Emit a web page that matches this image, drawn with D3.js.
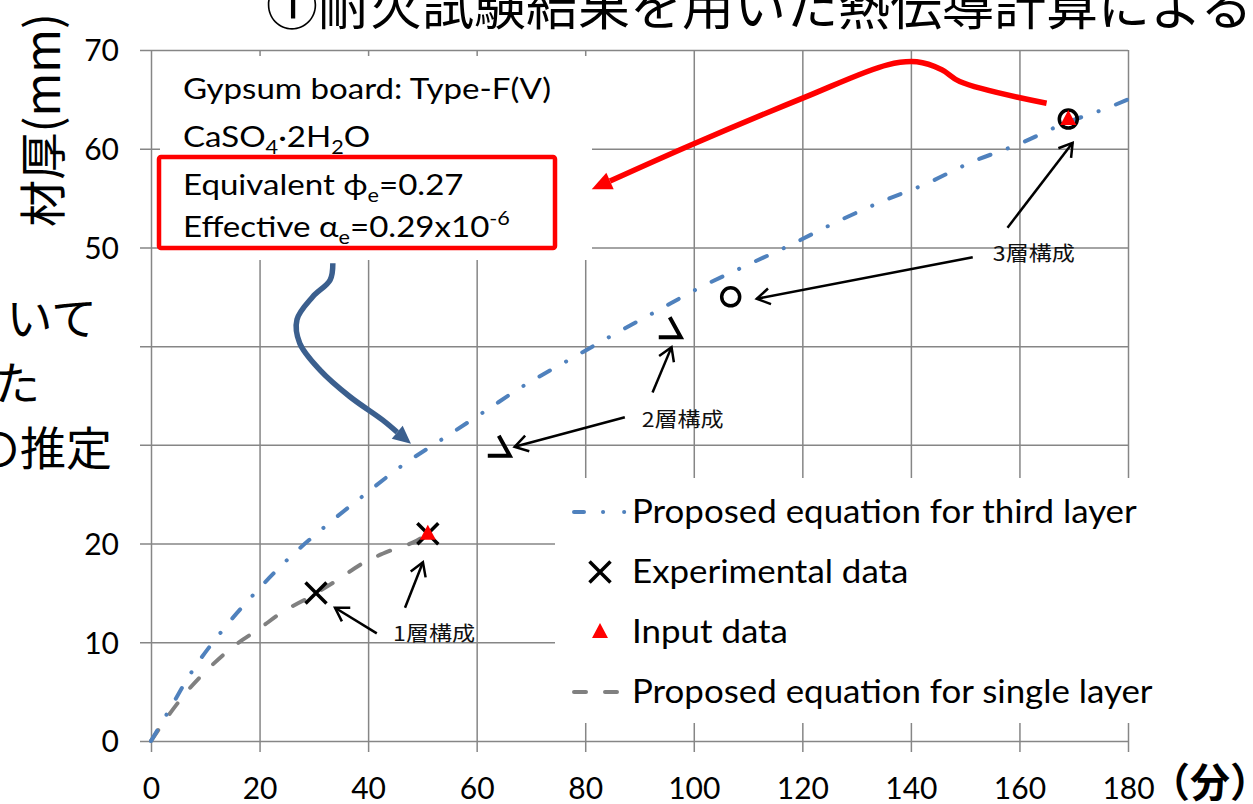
<html> <head>
<script src="https://d3js.org/d3.v7.min.js"></script>
<style>
  body { margin: 0; background: #fff; }
</style>
</head>
<body>
  <div id="chart"></div>
<script>

// data
const xTicks = [0, 20, 40, 60, 80, 100, 120, 140, 160, 180];
const yTicks = [0, 10, 20, 30, 40, 50, 60, 70];
const yLabels = ['0', '10', '20', '', '', '50', '60', '70']; // 30 and 40 sit under the slide text

// proposed equation for third layer (time [min], thickness [mm])
const thirdT = [0, 3, 7.5, 13, 19, 25, 32, 39, 46, 54, 61.5, 69, 77, 85, 93, 101, 109, 118, 126, 134, 143, 151, 160, 168, 177, 180];
const thirdV = [0, 2.8, 7, 11.1, 14.9, 18.3, 21.7, 24.8, 27.8, 30.7, 33.4, 36.1, 38.6, 41.1, 43.5, 45.9, 48, 50.3, 52.5, 54.5, 56.5, 58.6, 60.5, 62.5, 64.3, 65];

// proposed equation for single layer
const singleT = [0, 3.5, 6.6, 10.9, 15, 20, 24.3, 29.3, 34.3, 39, 44.6, 49, 51];
const singleV = [0, 2.8, 5, 7.5, 9.5, 11.4, 13.1, 14.6, 16.3, 18, 19.4, 20.3, 21];

// markers
const expT = [30.4, 51];
const expV = [15, 21];
const inputT = [51, 169];
const inputV = [21, 63];
const ringT = [106.8, 169];
const ringV = [45, 63];
const layer2T = [66.1, 97.6];
const layer2V = [28.9, 40.9];

const legendLabels = ['Proposed equation for third layer', 'Experimental data', 'Input data', 'Proposed equation for single layer'];
const boxLines = ['Gypsum board: Type-F(V)'];

// annotations, in data units
const redArrow = [[165, 64.6], [149, 66.8], [145.7, 68.0], [141.1, 68.8], [135.7, 68.5], [120.4, 65.2], [99.6, 60.4], [81.2, 55.9]];
const blueArrow = [[33.5, 48.4], [33, 46.7], [29.8, 45], [26.9, 42.7], [27.4, 40.3], [31.1, 37.6], [36.6, 34.9], [42.7, 32.5], [47.9, 30.1]];
const noteArrows = [
  [[41.6, 10.9], [33.9, 13.5]],
  [[46.8, 13.5], [50.1, 18.1]],
  [[87.3, 32.8], [67.0, 29.8]],
  [[92.4, 35.3], [95.9, 39.9]],
  [[151.4, 49.0], [111.6, 44.8]],
  [[157.8, 52.0], [169.8, 60.6]]
];
const noteLabels = ['1層構成', '2層構成', '3層構成'];
const notePos = [[44.6, 10.1], [90.4, 31.8], [155.1, 48.6]];

// constants
const W = 1253, H = 804;
const gridColor = '#868686';
const latin = 'Lato, "Liberation Sans", sans-serif';
const cjk = '"Noto Sans CJK JP", sans-serif';

const svg = d3.select('#chart').append('svg')
  .attr('width', W)
  .attr('height', H);

const x = d3.scaleLinear().domain([0, 180]).range([151, 1128]);
const y = d3.scaleLinear().domain([0, 70]).range([741, 50]);

// stretch a text horizontally (the slide's fonts run wider than Lato)
const stretch = (sel, k) => sel.each(function () {
  const len = this.getComputedTextLength();
  d3.select(this).attr('textLength', len * k).attr('lengthAdjust', 'spacingAndGlyphs');
});

// grid + axes
svg.append('g')
  .attr('transform', `translate(0, ${y(0) + 11})`)
  .call(d3.axisBottom(x).tickValues(xTicks).tickSize(-(y(0) + 11 - y(70))).tickPadding(26))
  .call(g => g.select('.domain').remove())
  .call(g => g.selectAll('line').attr('stroke', gridColor).attr('stroke-width', 1.5))
  .call(g => g.selectAll('text').attr('font-size', 30).attr('font-family', latin).attr('fill', '#000'));

svg.append('g')
  .attr('transform', `translate(${x(0) - 11}, 0)`)
  .call(d3.axisLeft(y).tickValues(yTicks).tickFormat((d, i) => yLabels[i]).tickSize(-(x(180) - x(0) + 11)).tickPadding(21))
  .call(g => g.select('.domain').remove())
  .call(g => g.selectAll('line').attr('stroke', gridColor).attr('stroke-width', 1.5))
  .call(g => g.selectAll('text').attr('font-size', 30).attr('font-family', latin).attr('fill', '#000').attr('dy', '0.36em'));

// series lines
const line = d3.line().x(d => x(d[0])).y(d => y(d[1])).curve(d3.curveMonotoneX);

svg.append('path')
  .datum(d3.zip(singleT, singleV))
  .attr('d', line)
  .attr('fill', 'none')
  .attr('stroke', '#808080')
  .attr('stroke-width', 4)
  .attr('stroke-linecap', 'round')
  .attr('stroke-dasharray', '13,20');

svg.append('path')
  .datum(d3.zip(thirdT, thirdV))
  .attr('d', line)
  .attr('fill', 'none')
  .attr('stroke', '#4F81BD')
  .attr('stroke-width', 4)
  .attr('stroke-linecap', 'round')
  .attr('stroke-dasharray', '12,18.5,0.1,18.5');

// markers
const cross = 'M-10.5,-10.5L10.5,10.5M10.5,-10.5L-10.5,10.5';
const tri = 'M0,-9L8,6L-8,6Z';

svg.append('g').selectAll('circle')
  .data(d3.zip(ringT, ringV)).join('circle')
  .attr('cx', d => x(d[0])).attr('cy', d => y(d[1])).attr('r', 9)
  .attr('fill', 'none').attr('stroke', '#000').attr('stroke-width', 3.5);

svg.append('g').selectAll('path')
  .data(d3.zip(expT, expV)).join('path')
  .attr('transform', d => `translate(${x(d[0])}, ${y(d[1])})`)
  .attr('d', cross).attr('stroke', '#000').attr('stroke-width', 3.5);

svg.append('g').selectAll('path')
  .data(d3.zip(inputT, inputV)).join('path')
  .attr('transform', d => `translate(${x(d[0])}, ${y(d[1])})`)
  .attr('d', tri).attr('fill', '#FF0000');

svg.append('g').selectAll('path')
  .data(d3.zip(layer2T, layer2V)).join('path')
  .attr('transform', d => `translate(${x(d[0])}, ${y(d[1])})`)
  .attr('d', 'M-22,0L0,0L-11,-20')
  .attr('fill', 'none').attr('stroke', '#000').attr('stroke-width', 4);

// white boxes laid over the plot
svg.append('rect').attr('x', 160).attr('y', 56).attr('width', 432).attr('height', 204).attr('fill', '#fff');
svg.append('rect').attr('x', 555).attr('y', 478).attr('width', 610).attr('height', 245).attr('fill', '#fff');
svg.append('rect').attr('x', 0).attr('y', 285).attr('width', 136).attr('height', 195).attr('fill', '#fff');

// legend
const lg = svg.append('g');
const legY = [512, 572, 632, 692];
lg.append('line').attr('x1', 574).attr('x2', 627).attr('y1', legY[0]).attr('y2', legY[0])
  .attr('stroke', '#4F81BD').attr('stroke-width', 4).attr('stroke-linecap', 'round')
  .attr('stroke-dasharray', '10,19,0.1,21,0.1,40');
lg.append('path').attr('transform', `translate(600, ${legY[1]})`).attr('d', cross)
  .attr('stroke', '#000').attr('stroke-width', 3.5);
lg.append('path').attr('transform', `translate(600, ${legY[2]})`).attr('d', tri).attr('fill', '#FF0000');
lg.append('line').attr('x1', 574).attr('x2', 620).attr('y1', legY[3]).attr('y2', legY[3])
  .attr('stroke', '#808080').attr('stroke-width', 4).attr('stroke-linecap', 'round')
  .attr('stroke-dasharray', '12,19');
lg.selectAll('text').data(legendLabels).join('text')
  .attr('x', 632).attr('y', (d, i) => legY[i] + 11)
  .attr('font-family', latin).attr('font-size', 32).attr('fill', '#000')
  .text(d => d)
  .call(stretch, 1.09);

// text box
const tb = svg.append('g').attr('font-family', latin).attr('font-size', 29).attr('fill', '#000');
tb.append('text').attr('x', 183).attr('y', 99).text(boxLines[0]);
const l2 = tb.append('text').attr('x', 183).attr('y', 147);
l2.append('tspan').text('CaSO');
l2.append('tspan').attr('dy', 7).attr('font-size', 19).text('4');
l2.append('tspan').attr('dy', -7).text('·2H');
l2.append('tspan').attr('dy', 7).attr('font-size', 19).text('2');
l2.append('tspan').attr('dy', -7).text('O');
const l3 = tb.append('text').attr('x', 183).attr('y', 195);
l3.append('tspan').text('Equivalent ϕ');
l3.append('tspan').attr('dy', 7).attr('font-size', 19).text('e');
l3.append('tspan').attr('dy', -7).text('=0.27');
const l4 = tb.append('text').attr('x', 183).attr('y', 237);
l4.append('tspan').text('Effective α');
l4.append('tspan').attr('dy', 7).attr('font-size', 19).text('e');
l4.append('tspan').attr('dy', -7).text('=0.29x10');
l4.append('tspan').attr('dy', -12).attr('font-size', 19).text('-6');
tb.selectAll('text').call(stretch, 1.14);
svg.append('rect').attr('x', 159).attr('y', 157).attr('width', 396).attr('height', 91)
  .attr('fill', 'none').attr('stroke', '#FF0000').attr('stroke-width', 4.5).attr('rx', 2);

// arrows
const px = d => [x(d[0]), y(d[1])];
const head = (p0, p1, len, wid) => {
  const a = Math.atan2(p1[1] - p0[1], p1[0] - p0[0]);
  const bx = p1[0] - len * Math.cos(a), by = p1[1] - len * Math.sin(a);
  const nx = -Math.sin(a) * wid / 2, ny = Math.cos(a) * wid / 2;
  return [[bx + nx, by + ny], p1, [bx - nx, by - ny]];
};
const curve = d3.line().curve(d3.curveCatmullRom);

const drawCurvedArrow = (pts, color, width, len, wid) => {
  const p = pts.map(px);
  const n = p.length;
  const h = head(p[n - 2], p[n - 1], len, wid);
  const trimmed = p.slice(0, n - 1).concat([[(h[0][0] + h[2][0]) / 2, (h[0][1] + h[2][1]) / 2]]);
  svg.append('path').attr('d', curve(trimmed)).attr('fill', 'none')
    .attr('stroke', color).attr('stroke-width', width).attr('stroke-linecap', 'butt');
  svg.append('path').attr('d', d3.line()(h) + 'Z').attr('fill', color);
};
drawCurvedArrow(redArrow, '#FF0000', 5.5, 20, 18);
drawCurvedArrow(blueArrow, '#3B5F8E', 5.5, 18, 17);

noteArrows.forEach(a => {
  const p0 = px(a[0]), p1 = px(a[1]);
  svg.append('line').attr('x1', p0[0]).attr('y1', p0[1]).attr('x2', p1[0]).attr('y2', p1[1])
    .attr('stroke', '#000').attr('stroke-width', 2.5);
  svg.append('path').attr('d', d3.line()(head(p0, p1, 13, 16)))
    .attr('fill', 'none').attr('stroke', '#000').attr('stroke-width', 2.5);
});

svg.append('g').selectAll('text').data(noteLabels).join('text')
  .attr('x', (d, i) => x(notePos[i][0])).attr('y', (d, i) => y(notePos[i][1]))
  .attr('font-family', cjk).attr('font-size', 20).attr('fill', '#111')
  .attr('textLength', 82).attr('lengthAdjust', 'spacingAndGlyphs')
  .text(d => d);

// slide texts around the chart
svg.append('text').attr('x', 266).attr('y', 25)
  .attr('font-family', cjk).attr('font-size', 52).attr('fill', '#000')
  .text('①耐火試験結果を用いた熱伝導計算による');

svg.append('text').attr('transform', 'translate(60, 120) rotate(-90)')
  .attr('text-anchor', 'middle')
  .attr('font-family', cjk).attr('font-size', 47).attr('fill', '#000')
  .attr('textLength', 214).attr('lengthAdjust', 'spacingAndGlyphs')
  .text('材厚(mm)');

const side = [['いて', 97, 335], ['た', 40, 400], ['の推定', 112, 465]];
svg.append('g').selectAll('text').data(side).join('text')
  .attr('x', d => d[1]).attr('y', d => d[2]).attr('text-anchor', 'end')
  .attr('font-family', cjk).attr('font-size', 46).attr('fill', '#000')
  .text(d => d[0]);

svg.append('text').attr('x', 1150).attr('y', 797)
  .attr('font-family', cjk).attr('font-size', 40).attr('font-weight', 'bold').attr('fill', '#000')
  .text('（分）');

</script> </body></html>
